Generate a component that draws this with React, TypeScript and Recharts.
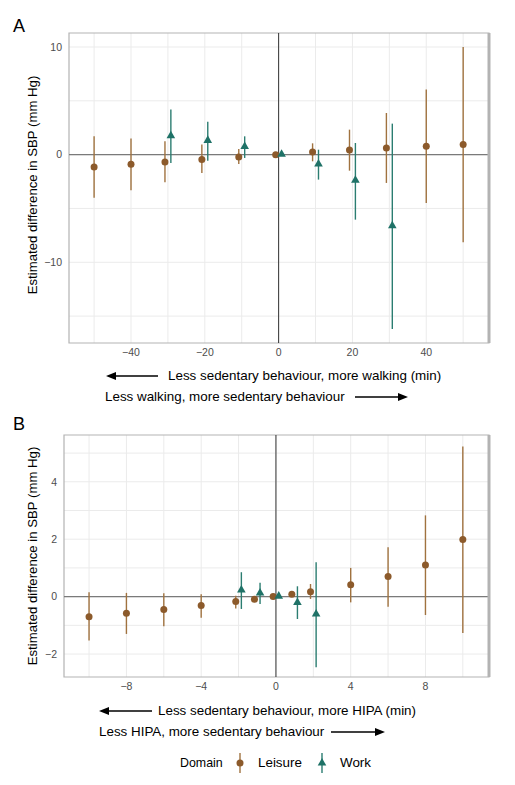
import React from "react";
import {
  ScatterChart,
  Scatter,
  XAxis,
  YAxis,
  CartesianGrid,
  ErrorBar,
  ReferenceLine,
  ReferenceArea,
} from "recharts";

// Panel A: walking (min)
const walkLeisureX = [-50, -40, -30, -20, -10, 0, 10, 20, 30, 40, 50];
const walkLeisureEst = [-1.15, -0.9, -0.68, -0.46, -0.21, 0, 0.25, 0.43, 0.62, 0.77, 0.93];
const walkLeisureLo = [-4.0, -3.3, -2.57, -1.7, -0.86, 0, -0.62, -1.49, -2.63, -4.49, -8.14];
const walkLeisureHi = [1.7, 1.5, 1.24, 0.93, 0.53, 0, 1.05, 2.32, 3.87, 6.04, 10.0];

const walkWorkX = [-30, -20, -10, 0, 10, 20, 30];
const walkWorkEst = [1.76, 1.33, 0.77, 0.05, -0.87, -2.38, -6.6];
const walkWorkLo = [-0.77, -0.56, -0.31, 0.05, -2.32, -6.04, -16.2];
const walkWorkHi = [4.2, 3.06, 1.7, 0.05, 0.46, 1.08, 2.88];

const walkXTicks = [-40, -20, 0, 20, 40];
const walkYTicks = [-10, 0, 10];
const walkXGrid = [-50, -40, -30, -20, -10, 0, 10, 20, 30, 40, 50];
const walkYGrid = [-15, -10, -5, 0, 5, 10];

// Panel B: HIPA (min)
const hipaLeisureX = [-10, -8, -6, -4, -2, -1, 0, 1, 2, 4, 6, 8, 10];
const hipaLeisureEst = [-0.7, -0.58, -0.45, -0.31, -0.17, -0.09, 0, 0.08, 0.17, 0.41, 0.7, 1.1, 1.99];
const hipaLeisureLo = [-1.53, -1.3, -1.03, -0.74, -0.41, -0.15, 0, 0.02, -0.08, -0.2, -0.35, -0.64, -1.27];
const hipaLeisureHi = [0.15, 0.13, 0.12, 0.08, 0.03, -0.03, 0, 0.14, 0.44, 1.0, 1.72, 2.83, 5.23];

const hipaWorkX = [-2, -1, 0, 1, 2];
const hipaWorkEst = [0.23, 0.13, 0.02, -0.2, -0.6];
const hipaWorkLo = [-0.43, -0.26, 0.02, -0.78, -2.46];
const hipaWorkHi = [0.85, 0.48, 0.02, 0.36, 1.2];

const hipaXTicks = [-8, -4, 0, 4, 8];
const hipaYTicks = [-2, 0, 2, 4];
const hipaXGrid = [-10, -8, -6, -4, -2, 0, 2, 4, 6, 8, 10];
const hipaYGrid = [-2, -1, 0, 1, 2, 3, 4, 5];

const LEISURE = "#8c5a2b";
const LEISURE_BAR = "#a0723f";
const WORK = "#1f7267";
const WORK_BAR = "#2b7d71";
const FONT = "'Liberation Sans', Arial, sans-serif";

function rows(xs, est, lo, hi, otherXs, dodge) {
  return xs.map((x, i) => ({
    x: otherXs.includes(x) ? x + dodge : x,
    y: est[i],
    err: [est[i] - lo[i], hi[i] - est[i]],
  }));
}

const dot = (props) => <circle cx={props.cx} cy={props.cy} r={3.5} fill={LEISURE} />;

const tri = (props) => {
  const { cx, cy } = props;
  const s = 4.3;
  return (
    <path
      d={`M${cx},${cy - s * 1.15}L${cx + s},${cy + s * 0.6}L${cx - s},${cy + s * 0.6}Z`}
      fill={WORK}
    />
  );
};

const fmt = (v) => (v < 0 ? `\u2212${Math.abs(v)}` : `${v}`);

function Panel({ width, height, margin, yWidth, xAxisH, xDomain, yDomain, xTicks, yTicks, xGrid, yGrid, leisure, work }) {
  return (
    <ScatterChart width={width} height={height} margin={margin}>
      <CartesianGrid stroke="#ebebeb" verticalValues={xGrid} horizontalValues={yGrid} />
      <XAxis
        type="number"
        dataKey="x"
        domain={xDomain}
        ticks={xTicks}
        allowDataOverflow
        height={xAxisH}
        axisLine={false}
        tickLine={false}
        tickSize={4}
        tickMargin={2}
        tickFormatter={fmt}
        tick={{ fill: "#4d4d4d", fontSize: 10.5 }}
      />
      <YAxis
        type="number"
        dataKey="y"
        domain={yDomain}
        ticks={yTicks}
        allowDataOverflow
        width={yWidth}
        axisLine={false}
        tickLine={false}
        tickSize={4}
        tickMargin={3}
        tickFormatter={fmt}
        tick={{ fill: "#4d4d4d", fontSize: 10.5 }}
      />
      <ReferenceLine y={0} stroke="#7a7a7a" strokeWidth={1.2} />
      <ReferenceLine x={0} stroke="#333333" strokeWidth={1} />
      <ReferenceArea
        x1={xDomain[0]}
        x2={xDomain[1]}
        y1={yDomain[0]}
        y2={yDomain[1]}
        fill="none"
        stroke="#b3b3b3"
        strokeWidth={1.2}
      />
      <ReferenceLine x={xDomain[1]} stroke="#b3b3b3" strokeWidth={3} />
      <Scatter data={leisure} shape={dot} isAnimationActive={false}>
        <ErrorBar dataKey="err" direction="y" width={0} stroke={LEISURE_BAR} strokeWidth={1.4} />
      </Scatter>
      <Scatter data={work} shape={tri} isAnimationActive={false}>
        <ErrorBar dataKey="err" direction="y" width={0} stroke={WORK_BAR} strokeWidth={1.4} />
      </Scatter>
    </ScatterChart>
  );
}

function Arrow({ x1, x2, y, dir }) {
  const left = Math.min(x1, x2);
  const w = Math.abs(x2 - x1);
  return (
    <svg style={{ position: "absolute", left: left - 2, top: y - 6, overflow: "visible" }} width={w + 4} height={12}>
      {dir === "left" ? (
        <>
          <line x1={10} y1={6} x2={w + 2} y2={6} stroke="#000" strokeWidth={1.3} />
          <polygon points={`2,6 12,2 12,10`} fill="#000" />
        </>
      ) : (
        <>
          <line x1={2} y1={6} x2={w - 6} y2={6} stroke="#000" strokeWidth={1.3} />
          <polygon points={`${w + 2},6 ${w - 8},2 ${w - 8},10`} fill="#000" />
        </>
      )}
    </svg>
  );
}

const txt = (left, cy, s, size = 13.4, extra = {}) => (
  <div
    style={{
      position: "absolute",
      left,
      top: cy - size * 0.6,
      fontSize: size,
      lineHeight: `${Math.round(size * 1.2)}px`,
      whiteSpace: "nowrap",
      ...extra,
    }}
  >
    {s}
  </div>
);

function YTitle({ cx, cy }) {
  return (
    <div
      style={{
        position: "absolute",
        left: cx - 150,
        top: cy - 8,
        width: 300,
        textAlign: "center",
        fontSize: 13.2,
        lineHeight: "16px",
        transform: "rotate(-90deg)",
        whiteSpace: "nowrap",
      }}
    >
      Estimated difference in SBP (mm Hg)
    </div>
  );
}

export default function App() {
  const walkLeisure = rows(walkLeisureX, walkLeisureEst, walkLeisureLo, walkLeisureHi, walkWorkX, -0.8);
  const walkWork = rows(walkWorkX, walkWorkEst, walkWorkLo, walkWorkHi, walkLeisureX, 0.8);
  const hipaLeisure = rows(hipaLeisureX, hipaLeisureEst, hipaLeisureLo, hipaLeisureHi, hipaWorkX, -0.15);
  const hipaWork = rows(hipaWorkX, hipaWorkEst, hipaWorkLo, hipaWorkHi, hipaLeisureX, 0.15);

  return (
    <div style={{ position: "absolute", left: 0, top: 0, width: 515, height: 785, background: "#fff", fontFamily: FONT, color: "#000" }}>
      {txt(13, 26, "A", 18)}
      <div style={{ position: "absolute", left: 0, top: 0 }}>
        <Panel
          width={515}
          height={365}
          margin={{ top: 33, right: 26, bottom: 0, left: 0 }}
          yWidth={69}
          xAxisH={22}
          xDomain={[-56.8, 57]}
          yDomain={[-17.5, 11.3]}
          xTicks={walkXTicks}
          yTicks={walkYTicks}
          xGrid={walkXGrid}
          yGrid={walkYGrid}
          leisure={walkLeisure}
          work={walkWork}
        />
      </div>
      <YTitle cx={33} cy={185} />
      <Arrow x1={106} x2={158} y={376} dir="left" />
      {txt(168, 376, "Less sedentary behaviour, more walking (min)")}
      {txt(105, 397, "Less walking, more sedentary behaviour")}
      <Arrow x1={355} x2={408} y={397} dir="right" />

      {txt(13, 424, "B", 18)}
      <div style={{ position: "absolute", left: 0, top: 400 }}>
        <Panel
          width={515}
          height={300}
          margin={{ top: 35, right: 26, bottom: 0, left: 0 }}
          yWidth={64}
          xAxisH={23}
          xDomain={[-11.34, 11.4]}
          yDomain={[-2.8, 5.63]}
          xTicks={hipaXTicks}
          yTicks={hipaYTicks}
          xGrid={hipaXGrid}
          yGrid={hipaYGrid}
          leisure={hipaLeisure}
          work={hipaWork}
        />
      </div>
      <YTitle cx={33} cy={556} />
      <Arrow x1={99} x2={152} y={711} dir="left" />
      {txt(158, 711, "Less sedentary behaviour, more HIPA (min)")}
      {txt(99, 732, "Less HIPA, more sedentary behaviour")}
      <Arrow x1={331} x2={385} y={732} dir="right" />

      {txt(180, 763, "Domain", 12.4)}
      <svg style={{ position: "absolute", left: 232, top: 752 }} width={16} height={22}>
        <line x1={8} y1={1} x2={8} y2={21} stroke={LEISURE_BAR} strokeWidth={1.4} />
        <circle cx={8} cy={11} r={3.5} fill={LEISURE} />
      </svg>
      {txt(258, 763, "Leisure")}
      <svg style={{ position: "absolute", left: 314, top: 752 }} width={16} height={22}>
        <line x1={8} y1={1} x2={8} y2={21} stroke={WORK_BAR} strokeWidth={1.4} />
        <path d="M8,6L12.3,13.6L3.7,13.6Z" fill={WORK} />
      </svg>
      {txt(340, 763, "Work")}
    </div>
  );
}
